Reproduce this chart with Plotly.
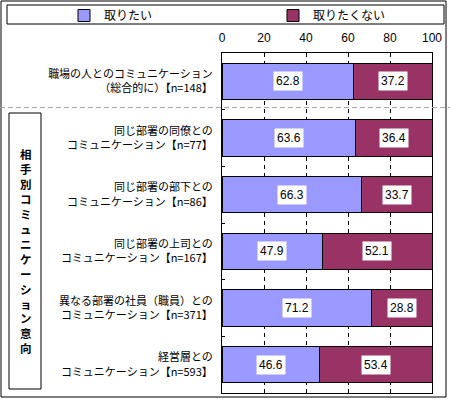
import plotly.graph_objects as go

categories = [
    "職場の人とのコミュニケーション<br>（総合的に）【n=148】",
    "同じ部署の同僚との<br>コミュニケーション【n=77】",
    "同じ部署の部下との<br>コミュニケーション【n=86】",
    "同じ部署の上司との<br>コミュニケーション【n=167】",
    "異なる部署の社員（職員）との<br>コミュニケーション【n=371】",
    "経営層との<br>コミュニケーション【n=593】",
]
want = [62.8, 63.6, 66.3, 47.9, 71.2, 46.6]
not_want = [37.2, 36.4, 33.7, 52.1, 28.8, 53.4]
series_names = ["取りたい", "取りたくない"]
x_ticks = [0, 20, 40, 60, 80, 100]
side_label = "相手別コミュニケーション意向"

FONT = "Liberation Sans, Noto Sans CJK JP, sans-serif"
W, H = 450, 399
L, R, T, B = 222, 18, 53, 6
PW, PH = W - L - R, H - T - B

def px(x):
    return (x - L) / PW

def py(y):
    return (H - B - y) / PH

fig = go.Figure()
fig.add_trace(go.Bar(
    y=categories, x=want, name=series_names[0], orientation="h",
    marker=dict(color="#9999FF", line=dict(color="black", width=1)),
))
fig.add_trace(go.Bar(
    y=categories, x=not_want, name=series_names[1], orientation="h",
    marker=dict(color="#993366", line=dict(color="black", width=1)),
))

annotations = []
for c, a, b in zip(categories, want, not_want):
    for xv, txt in ((a / 2, a), (a + b / 2, b)):
        annotations.append(dict(
            x=xv, y=c, xref="x", yref="y", text=f"{txt:.1f}", showarrow=False,
            font=dict(family=FONT, size=12, color="black"),
            bgcolor="white", borderpad=2,
        ))

annotations.append(dict(
    x=px(25.5), y=py(251), xref="paper", yref="paper",
    text="<br>".join(list(side_label)), showarrow=False,
    font=dict(family="Noto Sans CJK JP", size=11.5, color="black", weight="bold"),
    xanchor="center", yanchor="middle",
))

shapes = [
    dict(type="rect", xref="paper", yref="paper", x0=px(1), x1=px(446), y0=py(397), y1=py(1),
         line=dict(color="black", width=1), fillcolor="rgba(0,0,0,0)", layer="below"),
    dict(type="rect", xref="paper", yref="paper", x0=px(7), x1=px(444), y0=py(24), y1=py(5),
         line=dict(color="black", width=1), fillcolor="rgba(0,0,0,0)"),
    dict(type="rect", xref="paper", yref="paper", x0=px(9), x1=px(41), y0=py(389), y1=py(113),
         line=dict(color="black", width=1), fillcolor="rgba(0,0,0,0)"),
    dict(type="line", xref="paper", yref="paper", x0=px(0), x1=px(450), y0=py(107.5), y1=py(107.5),
         line=dict(color="#A8A8A8", width=1, dash="5px,3px")),
]

fig.update_layout(
    width=W, height=H, barmode="stack", bargap=0.356,
    margin=dict(l=L, r=R, t=T, b=B, autoexpand=False),
    paper_bgcolor="white", plot_bgcolor="white",
    font=dict(family=FONT, size=11, color="black"),
    showlegend=True,
    legend=dict(
        orientation="h", x=px(64), y=py(1), xanchor="left", yanchor="top",
        entrywidth=164, entrywidthmode="pixels", traceorder="normal",
        font=dict(family="Noto Sans CJK JP", size=12, color="black"),
        bgcolor="rgba(0,0,0,0)", borderwidth=0,
    ),
    xaxis=dict(
        side="top", range=[0, 100], tickvals=x_ticks, ticktext=[str(v) for v in x_ticks],
        showgrid=True, gridcolor="black", griddash="4px,4px", gridwidth=1,
        showline=True, linecolor="black", linewidth=1, mirror=True,
        ticks="", ticklabelstandoff=5, zeroline=False, automargin=False,
        tickfont=dict(family=FONT, size=12, color="black"), fixedrange=True,
    ),
    yaxis=dict(
        autorange="reversed", showline=True, linecolor="black", linewidth=1, mirror=True,
        ticks="inside", tickson="boundaries", ticklen=3, tickcolor="black",
        ticklabelstandoff=6, showgrid=False, automargin=False,
        tickfont=dict(family="Noto Sans CJK JP", size=11, color="black"), fixedrange=True,
    ),
    annotations=annotations, shapes=shapes,
)

fig.write_html("out.html", post_script="document.body.style.margin='0';",
               config={"displayModeBar": False})
